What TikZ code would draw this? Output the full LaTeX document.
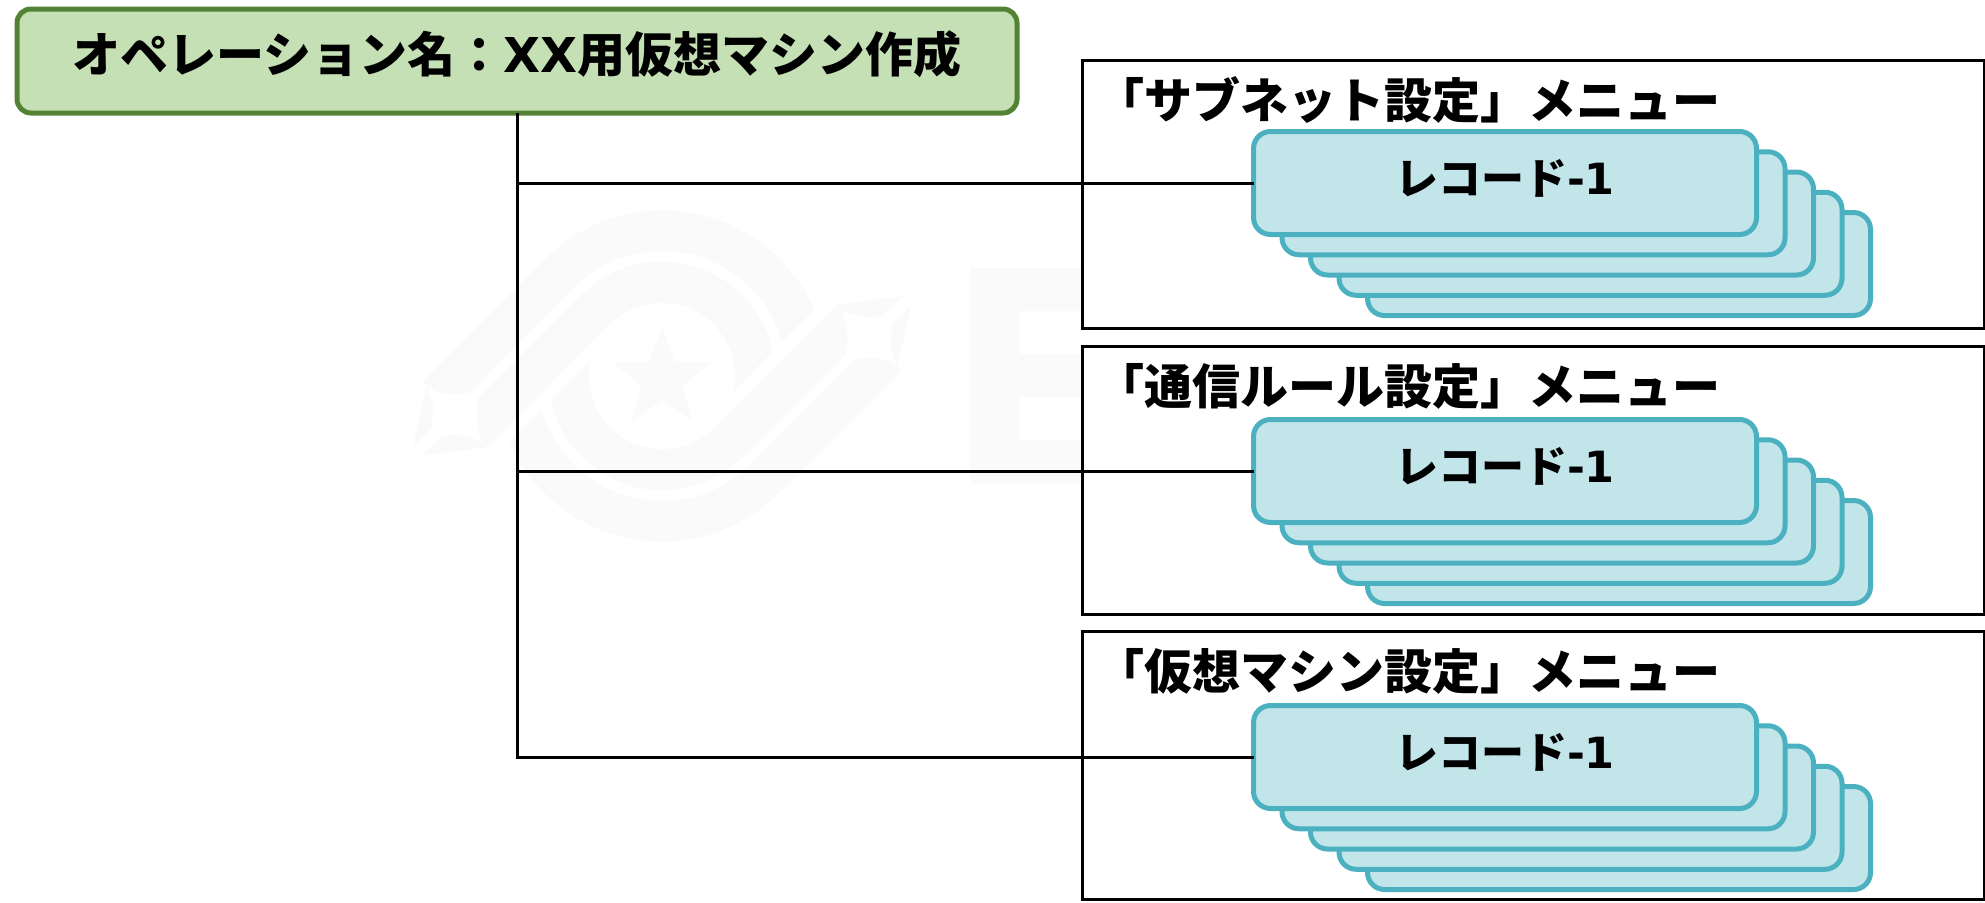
\documentclass[tikz,border=0pt]{standalone}
\usepackage{fontspec}
\usetikzlibrary{positioning, shapes.geometric}
\setmainfont{Noto Sans CJK JP}
\newfontfamily\latinfont{DejaVu Sans}
\definecolor{opfill}{HTML}{C5E0B4}
\definecolor{opline}{HTML}{548235}
\definecolor{recfill}{HTML}{C2E5EA}
\definecolor{recline}{HTML}{4BB1C0}
\definecolor{faintgray}{HTML}{FAFAFA}
\tikzset{
	opbox/.style={draw=opline, fill=opfill, line width=5pt, rounded corners=14pt, outer sep=0pt,
		minimum width=1000pt, minimum height=104pt, text height=30pt, text depth=8pt, inner sep=0pt,
		font=\fontsize{48pt}{48pt}\selectfont\bfseries},
	panel/.style={draw=black, fill=white, line width=3pt, outer sep=0pt, minimum width=902pt, minimum height=268pt},
	head/.style={inner sep=0pt, outer sep=0pt, text height=30pt, text depth=8pt, font=\fontsize{48pt}{48pt}\selectfont\bfseries},
	recbox/.style={draw=recline, fill=recfill, line width=5pt, rounded corners=17pt, outer sep=0pt,
		minimum width=503pt, minimum height=103pt, text height=30pt, text depth=8pt, inner sep=0pt,
		font=\fontsize{43pt}{43pt}\selectfont\bfseries},
	link/.style={draw=black, line width=3pt}
}
\newcommand{\lat}[1]{{\latinfont\bfseries #1}}
% one half of the faint logo behind the diagram
\newcommand{\markhalf}{
	\fill[faintgray] (422,382) -- (545,259) arc[start angle=225, end angle=336.4, radius=166]
		-- (782,342) arc[start angle=344.2, end angle=225, radius=125]
		-- (471,392) .. controls (458,396) and (438,396) .. (426,385) -- cycle;
	\fill[faintgray] (478,398) -- (581,295) arc[start angle=225, end angle=347.8, radius=114]
		-- (733,392) arc[start angle=372.7, end angle=225, radius=73]
		-- (488,447) -- (483,443) .. controls (477,430) and (475,415) .. (478,398) -- cycle;
	\fill[faintgray] (426,387) .. controls (432,395) and (434,405) .. (433,413) -- (432,428) -- (413,447) -- cycle;
	\fill[faintgray] (421,456) -- (440,437) .. controls (452,433) and (472,435) .. (483,443) -- (488,447) -- cycle;
}

\begin{document}
\begin{tikzpicture}[x=1pt, y=-1pt, node distance=18pt]
	\useasboundingbox (0,0) rectangle (1985,902);

	% faint logo
	\markhalf
	\begin{scope}[rotate around={180:(662,376)}]
		\markhalf
	\end{scope}
	\node[star, star points=5, star point ratio=2.4, fill=faintgray, inner sep=0pt, minimum size=104pt] (markstar) at (662,379) {};
	\fill[faintgray] (970,268) rectangle (1082,311) (970,354) rectangle (1082,397) (970,440) rectangle (1082,483) (970,268) rectangle (1020,483);

	\node[opbox] (op) at (517,61) {オペレーション名：\lat{XX}用仮想マシン作成};

	\node[panel, anchor=north west] (subnet) at (1082,60.5) {};
	\node[panel, below=17.5pt of subnet.south west, anchor=north west] (rule) {};
	\node[panel, below=17.5pt of rule.south west, anchor=north west] (vm) {};

	\node[head, anchor=west] (subnethead) at ([xshift=14pt, yshift=-47pt]subnet.north west) {「サブネット設定」メニュー};
	\node[head, anchor=west] (rulehead) at ([xshift=14pt, yshift=-47pt]rule.north west) {「通信ルール設定」メニュー};
	\node[head, anchor=west] (vmhead) at ([xshift=14pt, yshift=-47pt]vm.north west) {「仮想マシン設定」メニュー};

	% record stacks, back to front
	\foreach \pos/\name in {183/subnet, 471/rule, 757/vm}{
		\foreach \n in {4,3,2,1}{
			\node[recbox] (\name back\n) at (1505+28.5*\n,\pos+20.25*\n) {};
		}
		\node[recbox] (\name rec) at (1505,\pos) {レコード\lat{-1}};
		\draw[link] (op.south) |- (\name rec.west);
	}
\end{tikzpicture}
\end{document}
